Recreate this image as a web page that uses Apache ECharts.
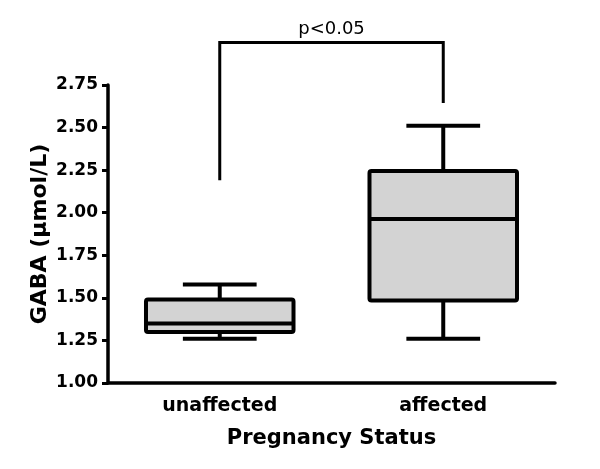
<!DOCTYPE html>
<html>
<head>
<meta charset="utf-8">
<script src="https://cdn.jsdelivr.net/npm/echarts@6/dist/echarts.min.js"></script>
<style>html,body{margin:0;padding:0;background:#fff}#c{width:600px;height:469px}</style>
</head>
<body>
<div id="c"></div>
<script>
const categories = ['unaffected', 'affected'];
const whiskerLow = [1.26, 1.26];
const quartile1 = [1.30, 1.485];
const medians = [1.35, 1.963];
const quartile3 = [1.49, 2.245];
const whiskerHigh = [1.578, 2.51];
const yMin = 1.00, yMax = 2.75, yStep = 0.25;
const bracketStart = 2.19;   // left leg bottom (unaffected)
const bracketEnd = 2.644;    // right leg bottom (affected)
const bracketTop = 3.0;
const pText = 'p<0.05';

const boxData = categories.map((c, i) => [i, whiskerLow[i], quartile1[i], medians[i], quartile3[i], whiskerHigh[i]]);

const chart = echarts.init(document.getElementById('c'), null, {renderer: 'canvas'});
const lw = 4;
chart.setOption({
  animation: false,
  backgroundColor: '#fff',
  grid: {left: 108, right: 45, top: 85, bottom: 86},
  xAxis: {
    type: 'category',
    data: categories,
    name: 'Pregnancy Status',
    nameLocation: 'middle',
    nameGap: 45,
    nameMoveOverlap: false,
    nameTextStyle: {fontFamily: 'DejaVu Sans', fontWeight: 'bold', fontSize: 21, color: '#000'},
    axisLine: {lineStyle: {color: '#000', width: 3.5}},
    axisTick: {show: false},
    axisLabel: {fontFamily: 'DejaVu Sans', fontWeight: 'bold', fontSize: 19, color: '#000', margin: 14},
    splitLine: {show: false}
  },
  yAxis: {
    type: 'value',
    min: yMin, max: yMax, interval: yStep,
    name: 'GABA (\u00b5mol/L)',
    nameLocation: 'middle',
    nameGap: 57,
    nameMoveOverlap: false,
    nameTextStyle: {fontFamily: 'DejaVu Sans', fontWeight: 'bold', fontSize: 22, color: '#000'},
    axisLine: {show: true, lineStyle: {color: '#000', width: 3.5}},
    axisTick: {show: true, length: 6, lineStyle: {color: '#000', width: 3}},
    axisLabel: {fontFamily: 'DejaVu Sans', fontWeight: 'bold', fontSize: 17, color: '#000', margin: 10,
      formatter: v => v.toFixed(2)},
    splitLine: {show: false}
  },
  series: [
    {
      type: 'custom',
      data: boxData,
      encode: {x: 0, y: [1, 2, 3, 4, 5]},
      clip: false,
      renderItem: function (params, api) {
        const i = api.value(0);
        const cx = api.coord([i, yMin])[0];
        const band = api.size([1, 0])[0];
        const bw = band * 0.66;
        const cap = bw * 0.5;
        const yLo = api.coord([i, api.value(1)])[1];
        const yQ1 = api.coord([i, api.value(2)])[1];
        const yMd = api.coord([i, api.value(3)])[1];
        const yQ3 = api.coord([i, api.value(4)])[1];
        const yHi = api.coord([i, api.value(5)])[1];
        const ls = {stroke: '#000', lineWidth: lw, lineCap: 'butt'};
        return {
          type: 'group',
          children: [
            {type: 'line', shape: {x1: cx, y1: yQ3, x2: cx, y2: yHi}, style: ls},
            {type: 'line', shape: {x1: cx, y1: yQ1, x2: cx, y2: yLo}, style: ls},
            {type: 'line', shape: {x1: cx - cap / 2, y1: yHi, x2: cx + cap / 2, y2: yHi}, style: ls},
            {type: 'line', shape: {x1: cx - cap / 2, y1: yLo, x2: cx + cap / 2, y2: yLo}, style: ls},
            {type: 'rect', shape: {x: cx - bw / 2, y: yQ3, width: bw, height: yQ1 - yQ3, r: 2},
              style: {fill: '#d3d3d3', stroke: '#000', lineWidth: lw, lineJoin: 'round'}},
            {type: 'line', shape: {x1: cx - bw / 2, y1: yMd, x2: cx + bw / 2, y2: yMd}, style: ls}
          ]
        };
      }
    },
    {
      type: 'custom',
      data: [[0, bracketStart, 1, bracketEnd, bracketTop]],
      encode: {x: [0, 2], y: [1, 3, 4]},
      clip: false,
      renderItem: function (params, api) {
        const p1 = api.coord([api.value(0), api.value(1)]);
        const p2 = api.coord([api.value(0), api.value(4)]);
        const p3 = api.coord([api.value(2), api.value(4)]);
        const p4 = api.coord([api.value(2), api.value(3)]);
        return {
          type: 'group',
          children: [
            {type: 'polyline', shape: {points: [p1, p2, p3, p4]},
              style: {stroke: '#000', lineWidth: 3, fill: null, lineJoin: 'miter'}},
            {type: 'text', x: (p2[0] + p3[0]) / 2, y: p2[1] - 4,
              style: {text: pText, fontFamily: 'DejaVu Sans', fontSize: 18, fill: '#000',
                textAlign: 'center', textVerticalAlign: 'bottom'}}
          ]
        };
      }
    }
  ]
});
</script>
</body>
</html>
